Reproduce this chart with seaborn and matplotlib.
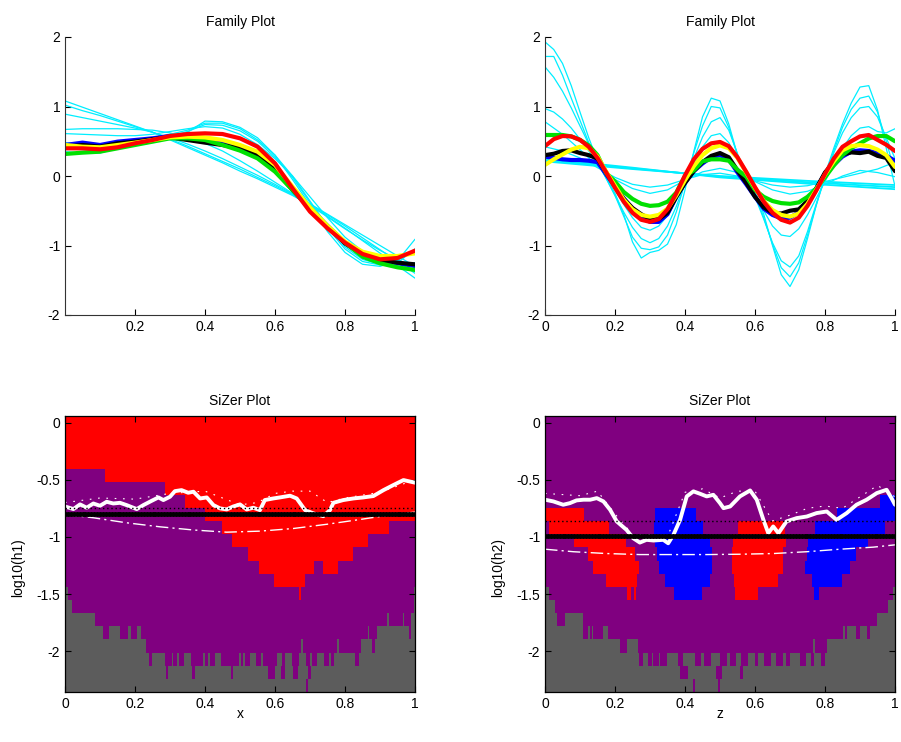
import numpy as np
import matplotlib

matplotlib.use("Agg")
import matplotlib.pyplot as plt
from matplotlib.colors import ListedColormap
import seaborn as sns

sns.set_style("white", {"axes.edgecolor": "black", "text.color": "black",
                        "xtick.color": "black", "ytick.color": "black",
                        "axes.labelcolor": "black"})
plt.rcParams["font.family"] = ["Liberation Sans", "DejaVu Sans"]
plt.rcParams["font.size"] = 10

# ---------------- Family plot (x) : 21 puntos, paso 0.05 ----------------
x21 = [round(0.05 * i, 3) for i in range(21)]

tl_red = [0.398, 0.398, 0.384, 0.413, 0.470, 0.518, 0.576, 0.604, 0.614, 0.604, 0.542,
          0.422, 0.182, -0.177, -0.513, -0.753, -0.959, -1.122, -1.199, -1.180, -1.074]
tl_blue = [0.446, 0.480, 0.446, 0.494, 0.518, 0.542, 0.576, 0.556, 0.508, 0.470, 0.413,
           0.336, 0.134, -0.177, -0.465, -0.729, -0.969, -1.137, -1.218, -1.256, -1.295]
tl_black = [0.422, 0.446, 0.422, 0.470, 0.494, 0.528, 0.556, 0.518, 0.480, 0.446, 0.398,
            0.302, 0.086, -0.201, -0.465, -0.719, -0.969, -1.122, -1.209, -1.247, -1.271]
tl_yellow = [0.446, 0.422, 0.413, 0.446, 0.480, 0.518, 0.556, 0.566, 0.556, 0.518, 0.446,
             0.350, 0.158, -0.153, -0.451, -0.719, -0.945, -1.089, -1.151, -1.151, -1.113]
tl_green = [0.317, 0.336, 0.350, 0.398, 0.446, 0.494, 0.542, 0.542, 0.518, 0.446, 0.365,
            0.254, 0.062, -0.201, -0.465, -0.719, -0.959, -1.161, -1.256, -1.314, -1.352]

tl_cyan = [
    [1.08, 0.99, 0.90, 0.81, 0.72, 0.63, 0.52, 0.41, 0.30, 0.19, 0.07,
     -0.04, -0.16, -0.28, -0.42, -0.58, -0.75, -0.93, -1.11, -1.29, -1.47],
    [1.02, 0.94, 0.87, 0.79, 0.71, 0.63, 0.53, 0.43, 0.32, 0.21, 0.10,
     -0.02, -0.14, -0.27, -0.41, -0.56, -0.72, -0.89, -1.06, -1.23, -1.40],
    [0.89, 0.84, 0.79, 0.74, 0.69, 0.63, 0.55, 0.46, 0.36, 0.25, 0.13,
     0.01, -0.12, -0.26, -0.40, -0.55, -0.70, -0.85, -1.00, -1.15, -1.30],
    [0.67, 0.68, 0.68, 0.68, 0.67, 0.66, 0.62, 0.56, 0.47, 0.36, 0.22,
     0.07, -0.09, -0.25, -0.42, -0.59, -0.76, -0.92, -1.07, -1.20, -1.32],
    [0.61, 0.60, 0.59, 0.58, 0.58, 0.60, 0.64, 0.68, 0.71, 0.69, 0.60,
     0.45, 0.25, 0.00, -0.30, -0.60, -0.88, -1.08, -1.20, -1.25, -1.25],
    [0.48, 0.46, 0.45, 0.47, 0.50, 0.55, 0.60, 0.66, 0.76, 0.76, 0.68,
     0.52, 0.30, 0.00, -0.36, -0.72, -1.02, -1.20, -1.27, -1.22, -1.05],
    [0.40, 0.38, 0.36, 0.42, 0.48, 0.52, 0.56, 0.63, 0.79, 0.78, 0.70,
     0.55, 0.30, -0.05, -0.42, -0.80, -1.10, -1.27, -1.30, -1.22, -0.91],
    [0.35, 0.33, 0.33, 0.40, 0.47, 0.52, 0.57, 0.64, 0.74, 0.73, 0.65,
     0.50, 0.27, -0.02, -0.38, -0.75, -1.05, -1.23, -1.28, -1.25, -1.05],
]

# ---------------- Family plot (z) : 41 puntos, paso 0.025 ----------------
x41 = [round(0.025 * i, 3) for i in range(41)]

tr_red = [0.43, 0.53, 0.575, 0.57, 0.52, 0.42, 0.26, 0.05, -0.17, -0.37, -0.53, -0.63, -0.66, -0.62,
          -0.48, -0.25, 0.01, 0.24, 0.39, 0.47, 0.49, 0.43, 0.27, 0.06, -0.16, -0.37, -0.53, -0.63,
          -0.67, -0.60, -0.43, -0.21, 0.03, 0.25, 0.42, 0.50, 0.57, 0.59, 0.52, 0.45, 0.36]
tr_yellow = [0.16, 0.24, 0.31, 0.38, 0.42, 0.40, 0.28, 0.06, -0.14, -0.34, -0.48, -0.56, -0.585, -0.56,
             -0.47, -0.28, -0.06, 0.14, 0.30, 0.40, 0.44, 0.40, 0.26, 0.05, -0.17, -0.36, -0.49, -0.56,
             -0.585, -0.54, -0.40, -0.20, 0.02, 0.21, 0.37, 0.43, 0.445, 0.43, 0.38, 0.30, 0.13]
tr_green = [0.59, 0.59, 0.59, 0.57, 0.52, 0.44, 0.30, 0.04, -0.08, -0.23, -0.33, -0.40, -0.43, -0.42,
            -0.37, -0.24, 0.00, 0.08, 0.21, 0.24, 0.24, 0.22, 0.09, -0.01, -0.20, -0.30, -0.36, -0.39,
            -0.40, -0.38, -0.30, -0.18, -0.02, 0.15, 0.30, 0.40, 0.47, 0.54, 0.575, 0.575, 0.50]
tr_blue = [0.28, 0.26, 0.24, 0.23, 0.23, 0.22, 0.20, 0.02, -0.15, -0.32, -0.47, -0.57, -0.66, -0.66,
           -0.55, -0.30, -0.10, 0.07, 0.18, 0.27, 0.30, 0.24, 0.05, -0.12, -0.30, -0.47, -0.56, -0.61,
           -0.60, -0.52, -0.35, -0.18, 0.04, 0.16, 0.28, 0.35, 0.37, 0.36, 0.33, 0.29, 0.22]
tr_black = [0.30, 0.32, 0.36, 0.37, 0.33, 0.30, 0.25, 0.05, -0.15, -0.33, -0.46, -0.55, -0.62, -0.62,
            -0.53, -0.30, -0.10, 0.07, 0.20, 0.29, 0.33, 0.27, 0.08, -0.10, -0.30, -0.45, -0.53, -0.54,
            -0.50, -0.48, -0.36, -0.18, 0.05, 0.20, 0.31, 0.34, 0.33, 0.35, 0.29, 0.26, 0.07]

tr_cyan_fine = [
    [1.93, 1.82, 1.62, 1.30, 0.92, 0.55, 0.22, -0.02, -0.25, -0.55, -0.95, -1.18, -1.10, -1.07,
     -0.98, -0.70, -0.20, 0.35, 0.85, 1.12, 1.08, 0.75, 0.30, 0.02, -0.20, -0.55, -1.00, -1.42,
     -1.59, -1.35, -0.90, -0.42, 0.02, 0.40, 0.75, 1.05, 1.28, 1.30, 0.95, 0.40, -0.15],
    [1.72, 1.72, 1.45, 1.12, 0.80, 0.48, 0.20, -0.03, -0.28, -0.58, -0.88, -1.04, -1.06, -1.02,
     -0.85, -0.52, -0.10, 0.33, 0.72, 1.00, 0.98, 0.70, 0.30, 0.00, -0.26, -0.60, -0.98, -1.32,
     -1.45, -1.25, -0.85, -0.42, -0.02, 0.36, 0.70, 0.96, 1.12, 1.15, 0.92, 0.50, 0.05],
    [1.57, 1.42, 1.22, 0.98, 0.72, 0.46, 0.20, -0.04, -0.28, -0.52, -0.74, -0.90, -0.96, -0.90,
     -0.72, -0.44, -0.10, 0.25, 0.56, 0.78, 0.84, 0.66, 0.32, 0.00, -0.30, -0.62, -0.96, -1.22,
     -1.31, -1.15, -0.80, -0.40, -0.02, 0.33, 0.62, 0.84, 0.98, 1.00, 0.85, 0.55, 0.25],
    [0.97, 0.92, 0.82, 0.69, 0.53, 0.36, 0.18, 0.00, -0.20, -0.41, -0.60, -0.74, -0.78, -0.72,
     -0.57, -0.35, -0.08, 0.18, 0.42, 0.58, 0.61, 0.48, 0.25, 0.00, -0.25, -0.50, -0.72, -0.85,
     -0.87, -0.76, -0.56, -0.32, -0.08, 0.17, 0.40, 0.58, 0.69, 0.71, 0.64, 0.62, 0.68],
]
tr_cyan_coarse = [
    [0.78, 0.60, 0.38, 0.14, -0.05, -0.18, -0.25, -0.20, -0.06, 0.06, 0.11,
     0.05, -0.08, -0.20, -0.26, -0.22, -0.12, 0.00, 0.08, 0.05, -0.01],
    [0.42, 0.36, 0.26, 0.12, -0.02, -0.12, -0.16, -0.13, -0.05, 0.02, 0.04,
     0.00, -0.07, -0.13, -0.16, -0.14, -0.08, -0.02, 0.04, 0.10, 0.20],
]
x5 = [0, 0.25, 0.5, 0.75, 1.0]
tr_cyan_straight = [
    [0.25, 0.12, -0.02, -0.11, -0.19],
    [0.23, 0.11, -0.01, -0.09, -0.16],
    [0.21, 0.10, 0.00, -0.07, -0.13],
]

# ---------------- SiZer maps: 21 filas de log10(h), de 0 a -2.3 ----------------
log_h_top, log_h_bottom = 0.0, -2.3

left_red_rows = [
    [(0, 1)], [(0, 1)], [(0, 1)], [(0, 1)],
    [(0.113, 1)], [(0.286, 1)], [(0.343, 1)], [(0.40, 1)],
    [(0.45, 0.927)], [(0.476, 0.865)], [(0.522, 0.824)],
    [(0.554, 0.712), (0.738, 0.779)], [(0.596, 0.686)], [(0.669, 0.675)],
    [], [], [], [], [], [], [],
]
left_gray_rows = [[]] * 13 + [
    [(0, 0.01), (0.996, 1)],
    [(0, 0.019), (0.996, 1)],
    [(0, 0.086), (0.92, 0.927), (0.966, 0.97), (0.99, 1)],
    [(0, 0.11), (0.127, 0.157), (0.181, 0.19), (0.207, 0.216), (0.866, 0.87), (0.892, 0.982), (0.99, 1)],
    [(0, 0.231), (0.674, 0.68), (0.777, 0.782), (0.847, 0.877), (0.887, 1)],
    [(0, 0.241), (0.25, 0.286), (0.305, 0.31), (0.32, 0.326), (0.34, 0.36), (0.395, 0.40),
     (0.41, 0.415), (0.43, 0.445), (0.498, 0.503), (0.51, 0.515), (0.53, 0.545), (0.56, 0.565),
     (0.605, 0.62), (0.63, 0.65), (0.67, 0.69), (0.70, 0.705), (0.72, 0.74), (0.755, 0.76),
     (0.77, 0.83), (0.84, 1)],
    [(0, 0.289), (0.295, 0.362), (0.371, 0.473), (0.481, 0.58), (0.599, 0.618), (0.628, 0.652),
     (0.665, 0.693), (0.703, 1)],
    [(0, 0.69), (0.695, 1)],
]

right_red_rows = [[]] * 7 + [
    [(0, 0.112)],
    [(0.012, 0.184), (0.552, 0.686)],
    [(0.083, 0.231), (0.538, 0.688)],
    [(0.124, 0.257), (0.535, 0.679)],
    [(0.136, 0.269), (0.535, 0.679)],
    [(0.173, 0.264), (0.540, 0.667)],
    [(0.235, 0.245), (0.255, 0.259), (0.543, 0.608)],
] + [[]] * 7
right_blue_rows = [[]] * 6 + [
    [(0.957, 1)],
    [(0.314, 0.431), (0.835, 1)],
    [(0.311, 0.452), (0.771, 0.971)],
    [(0.314, 0.471), (0.752, 0.924)],
    [(0.319, 0.476), (0.748, 0.890)],
    [(0.327, 0.476), (0.743, 0.871)],
    [(0.343, 0.471), (0.762, 0.848)],
    [(0.369, 0.448), (0.769, 0.783)],
] + [[]] * 7
right_gray_rows = [[]] * 13 + [
    [(0, 0.012), (0.993, 1)],
    [(0, 0.029), (0.981, 1)],
    [(0, 0.035), (0.057, 0.108), (0.948, 1)],
    [(0, 0.11), (0.124, 0.129), (0.133, 0.137), (0.167, 0.181), (0.852, 0.857), (0.862, 0.89),
     (0.90, 0.92), (0.93, 1)],
    [(0, 0.214), (0.233, 0.267), (0.767, 0.772), (0.807, 1)],
    [(0, 0.27), (0.28, 0.295), (0.305, 0.31), (0.325, 0.33), (0.35, 0.38), (0.395, 0.43),
     (0.445, 0.455), (0.475, 0.5), (0.52, 0.53), (0.545, 0.56), (0.58, 0.6), (0.61, 0.625),
     (0.645, 0.66), (0.68, 0.69), (0.70, 0.73), (0.745, 0.76), (0.77, 0.79), (0.80, 1)],
    [(0, 0.386), (0.41, 0.49), (0.505, 0.557), (0.567, 1)],
    [(0, 0.424), (0.429, 0.495), (0.50, 1)],
]

# curvas sobre el mapa
left_white_x = [0, 0.024, 0.043, 0.062, 0.081, 0.1, 0.119, 0.138, 0.157, 0.176, 0.205, 0.224,
                0.248, 0.267, 0.281, 0.3, 0.314, 0.333, 0.352, 0.367, 0.386, 0.405, 0.424, 0.443,
                0.462, 0.481, 0.5, 0.519, 0.538, 0.557, 0.571, 0.595, 0.614, 0.643, 0.662, 0.686,
                0.71, 0.738, 0.757, 0.767, 0.795, 0.824, 0.852, 0.881, 0.91, 0.938, 0.967, 1.0]
left_white_y = [-0.734, -0.757, -0.716, -0.745, -0.708, -0.728, -0.693, -0.708, -0.702, -0.722,
                -0.757, -0.722, -0.684, -0.655, -0.678, -0.649, -0.60, -0.591, -0.614, -0.605,
                -0.664, -0.655, -0.722, -0.751, -0.760, -0.734, -0.716, -0.760, -0.745, -0.766,
                -0.678, -0.664, -0.655, -0.640, -0.664, -0.766, -0.795, -0.819, -0.766, -0.702,
                -0.678, -0.664, -0.655, -0.643, -0.591, -0.547, -0.503, -0.526]
right_white_x = [0, 0.024, 0.052, 0.071, 0.090, 0.11, 0.129, 0.148, 0.167, 0.186, 0.205, 0.233,
                 0.252, 0.271, 0.29, 0.31, 0.338, 0.352, 0.367, 0.386, 0.405, 0.424, 0.443, 0.462,
                 0.481, 0.5, 0.51, 0.529, 0.557, 0.586, 0.605, 0.624, 0.638, 0.652, 0.667, 0.69,
                 0.719, 0.748, 0.776, 0.805, 0.833, 0.862, 0.89, 0.919, 0.948, 0.976, 0.99, 1.0]
right_white_y = [-0.675, -0.69, -0.719, -0.705, -0.681, -0.675, -0.675, -0.661, -0.69, -0.763,
                 -0.865, -0.939, -1.012, -1.05, -1.026, -1.032, -1.026, -1.056, -0.982, -0.851,
                 -0.646, -0.602, -0.623, -0.646, -0.632, -0.705, -0.749, -0.734, -0.646, -0.594,
                 -0.675, -0.851, -0.968, -0.909, -0.968, -0.865, -0.836, -0.822, -0.792, -0.778,
                 -0.851, -0.792, -0.719, -0.675, -0.617, -0.588, -0.661, -0.719]

band_x_left = [0, 0.1, 0.2, 0.3, 0.4, 0.5, 0.55, 0.6, 0.65, 0.7, 0.75, 0.8, 0.9, 1.0]
band_y_left = [-0.70, -0.66, -0.67, -0.62, -0.60, -0.72, -0.70, -0.62, -0.60, -0.60, -0.70,
               -0.66, -0.61, -0.50]
band_x_right = [0, 0.1, 0.15, 0.2, 0.25, 0.3, 0.35, 0.4, 0.45, 0.5, 0.55, 0.6, 0.65, 0.7, 0.75,
                0.8, 0.85, 0.9, 0.95, 1.0]
band_y_right = [-0.62, -0.64, -0.60, -0.80, -0.98, -0.98, -1.00, -0.61, -0.58, -0.66, -0.60,
                -0.60, -0.86, -0.81, -0.75, -0.73, -0.75, -0.65, -0.55, -0.65]

dd_x = [0, 0.081, 0.176, 0.271, 0.367, 0.462, 0.557, 0.652, 0.748, 0.843, 0.938, 1.0]
left_dd_y = [-0.804, -0.833, -0.877, -0.912, -0.94, -0.959, -0.95, -0.927, -0.89, -0.848,
             -0.804, -0.784]
right_dd_y = [-1.108, -1.13, -1.146, -1.155, -1.155, -1.155, -1.152, -1.146, -1.13, -1.108,
              -1.09, -1.07]

left_h0, left_dotted = -0.80, -0.75
right_h0, right_dotted = -0.99, -0.86

sizer_cmap = ListedColormap(["#800080", "#ff0000", "#0000ff", "#5c5c5c"])


def armar_mapa(red_rows, blue_rows, gray_rows, ncols=1000):
    xc = (np.arange(ncols) + 0.5) / ncols
    grid = np.zeros((len(gray_rows), ncols))
    for codigo, filas in ((1, red_rows), (2, blue_rows), (3, gray_rows)):
        for i, tramos in enumerate(filas):
            for a, b in tramos:
                grid[i, (xc >= a) & (xc <= b)] = codigo
    return grid


def linea(ax, xs, ys, color, lw, **kw):
    sns.lineplot(x=xs, y=ys, ax=ax, color=color, linewidth=lw, sort=False,
                 estimator=None, legend=False, **kw)


fig = plt.figure(figsize=(9.01, 7.42), dpi=100)
W, H = 901, 742
ax_tl = fig.add_axes([65 / W, 1 - 315 / H, 350 / W, 278 / H])
ax_tr = fig.add_axes([545 / W, 1 - 315 / H, 350 / W, 278 / H])
ax_bl = fig.add_axes([65 / W, 1 - 692 / H, 350 / W, 276 / H])
ax_br = fig.add_axes([545 / W, 1 - 692 / H, 350 / W, 276 / H])

cyan = "#00eeff"

# Family plots
for cy in tl_cyan:
    linea(ax_tl, x21, cy, cyan, 0.9)
for ys, col in ((tl_blue, "blue"), (tl_black, "black"), (tl_green, "#00e000"),
                (tl_yellow, "#ffff00"), (tl_red, "red")):
    linea(ax_tl, x21, ys, col, 3.0)

for cy in tr_cyan_fine:
    linea(ax_tr, x41, cy, cyan, 0.9)
for cy in tr_cyan_coarse:
    linea(ax_tr, x21, cy, cyan, 0.9)
for cy in tr_cyan_straight:
    linea(ax_tr, x5, cy, cyan, 1.3)
for ys, col in ((tr_blue, "blue"), (tr_black, "black"), (tr_green, "#00e000"),
                (tr_yellow, "#ffff00"), (tr_red, "red")):
    linea(ax_tr, x41, ys, col, 3.0)

for ax, ticks in ((ax_tl, [0.2, 0.4, 0.6, 0.8, 1.0]), (ax_tr, [0, 0.2, 0.4, 0.6, 0.8, 1.0])):
    ax.set_xlim(0, 1)
    ax.set_ylim(-2, 2)
    ax.set_xticks(ticks)
    ax.set_xticklabels([("%g" % t) for t in ticks])
    ax.set_yticks([-2, -1, 0, 1, 2])
    ax.set_yticklabels(["-2", "-1", "0", "1", "2"])
    ax.tick_params(direction="in", length=4, bottom=True, left=True, top=False, right=False,
                   labelsize=10)
    for s in ("top", "right"):
        ax.spines[s].set_visible(False)
    for s in ("left", "bottom"):
        ax.spines[s].set_color("#333333")
        ax.spines[s].set_linewidth(0.8)
    ax.set_title("Family Plot", fontsize=10, pad=8)

# SiZer plots
half = (log_h_top - log_h_bottom) / 40
ext = (0, 1, log_h_bottom - half, log_h_top + half)
paneles = (
    (ax_bl, armar_mapa(left_red_rows, [[]] * 21, left_gray_rows), left_white_x, left_white_y,
     band_x_left, band_y_left, left_dd_y, left_h0, left_dotted, "x", "log10(h1)"),
    (ax_br, armar_mapa(right_red_rows, right_blue_rows, right_gray_rows), right_white_x,
     right_white_y, band_x_right, band_y_right, right_dd_y, right_h0, right_dotted, "z",
     "log10(h2)"),
)
for ax, grid, wx, wy, bx, by, ddy, h0, hdot, xl, yl in paneles:
    ax.imshow(grid, cmap=sizer_cmap, vmin=-0.5, vmax=3.5, extent=ext, aspect="auto",
              interpolation="nearest", origin="upper")
    linea(ax, dd_x, ddy, "white", 1.0, dashes=False, linestyle=(0, (9, 3, 1.5, 3)))
    linea(ax, bx, by, "white", 0.8, dashes=False, linestyle=(0, (1.5, 6)))
    linea(ax, wx, wy, "white", 2.8)
    xs_lvl = np.linspace(0, 1, 121)
    ax.axhline(hdot, color="black", lw=1.0, ls=(0, (1, 2)))
    ax.plot(xs_lvl, np.full_like(xs_lvl, h0), color="black", lw=2.0, marker="o", ms=2.6)
    ax.set_xlim(0, 1)
    ax.set_ylim(ext[2], ext[3])
    ax.set_xticks([0, 0.2, 0.4, 0.6, 0.8, 1.0])
    ax.set_xticklabels(["0", "0.2", "0.4", "0.6", "0.8", "1"])
    ax.set_yticks([0, -0.5, -1, -1.5, -2])
    ax.set_yticklabels(["0", "-0.5", "-1", "-1.5", "-2"])
    ax.tick_params(direction="in", length=4, bottom=True, left=True, top=True, right=True,
                   labelsize=10)
    for s in ax.spines.values():
        s.set_color("black")
        s.set_linewidth(0.9)
    ax.set_title("SiZer Plot", fontsize=10, pad=8)
    ax.set_xlabel(xl, fontsize=10, labelpad=-3)
    ax.set_ylabel(yl, fontsize=10)
    ax.yaxis.set_label_coords(-0.115, 0.45)

fig.savefig("out.png", dpi=100, facecolor="white")
plt.close(fig)
